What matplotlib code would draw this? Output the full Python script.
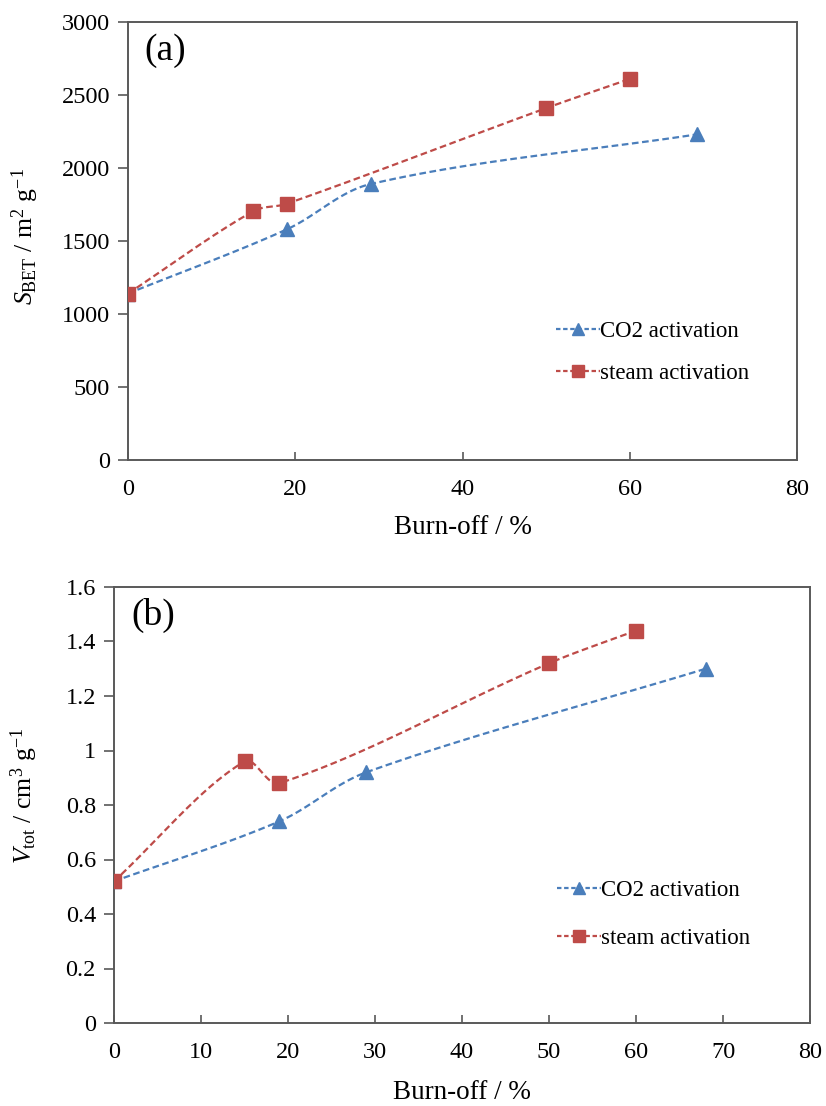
import numpy as np
import matplotlib
matplotlib.use("Agg")
import matplotlib.pyplot as plt
from matplotlib.lines import Line2D

plt.rcParams['font.family'] = ['Liberation Serif', 'DejaVu Serif']
plt.rcParams['mathtext.fontset'] = 'custom'
plt.rcParams['mathtext.rm'] = 'Liberation Serif'
plt.rcParams['mathtext.it'] = 'Liberation Serif:italic'

# Burn-off (%) and measured properties
co2_burnoff = [0, 19, 29, 68]
steam_burnoff = [0, 15, 19, 50, 60]

co2_sbet = [1140, 1580, 1890, 2230]
steam_sbet = [1140, 1705, 1755, 2410, 2610]

co2_vtot = [0.52, 0.74, 0.92, 1.30]
steam_vtot = [0.52, 0.96, 0.88, 1.32, 1.44]

BLUE = '#4A7EBB'
RED = '#BE4B48'
SPINE = '#595959'

W, H = 826, 1106
fig = plt.figure(figsize=(W / 100, H / 100), dpi=100)


def smooth_curve(x, y, sx, sy, n=40):
    """Bezier smoothing through the points, tangents scaled by neighbouring segment lengths."""
    p = np.column_stack([np.asarray(x, float) * sx, np.asarray(y, float) * sy])
    pts = [p[0]]
    for i in range(len(p) - 1):
        p1, p2 = p[i], p[i + 1]
        d12 = np.linalg.norm(p2 - p1)
        if i > 0:
            p0 = p[i - 1]
            d01 = np.linalg.norm(p1 - p0)
            c1 = p1 + (p2 - p0) * d12 / (d01 + d12) / 3.0
        else:
            c1 = p1 + (p2 - p1) / 3.0
        if i + 2 < len(p):
            p3 = p[i + 2]
            d23 = np.linalg.norm(p3 - p2)
            c2 = p2 - (p3 - p1) * d12 / (d12 + d23) / 3.0
        else:
            c2 = p2 - (p2 - p1) / 3.0
        t = np.linspace(0, 1, n)[1:, None]
        seg = ((1 - t) ** 3) * p1 + 3 * ((1 - t) ** 2) * t * c1 + 3 * (1 - t) * t ** 2 * c2 + t ** 3 * p2
        pts.extend(seg)
    pts = np.array(pts)
    return pts[:, 0] / sx, pts[:, 1] / sy


def panel(rect, xs, ys, xmax, xstep, ymax, ystep, ylabel, tag, ytickfmt, leg_anchor, leg_space,
          ylab_pos, xlab_y):
    ax = fig.add_axes(rect)
    wpx = rect[2] * W
    hpx = rect[3] * H
    sx, sy = wpx / xmax, hpx / ymax
    series = [
        (xs[0], ys[0], BLUE, '^', 10, 'CO2 activation'),
        (xs[1], ys[1], RED, 's', 9.5, 'steam activation'),
    ]
    handles = []
    for x, y, c, m, ms, lab in series:
        cx, cy = smooth_curve(x, y, sx, sy)
        ax.plot(cx, cy, color=c, lw=1.6, ls=(0, (3, 1.6)), zorder=2)
        ax.plot(x, y, ls='none', marker=m, ms=ms, color=c, mec=c, zorder=3)
        handles.append(Line2D([], [], color=c, lw=1.6, ls=(0, (2, 1.2)), marker=m,
                              ms=ms * 0.85, mec=c, label=lab))
    ax.set_xlim(0, xmax)
    ax.set_ylim(0, ymax)
    ax.set_xticks(np.arange(0, xmax + 0.1, xstep))
    ax.set_yticks(np.arange(0, ymax + ystep / 2, ystep))
    ax.set_yticklabels([ytickfmt(v) for v in np.arange(0, ymax + ystep / 2, ystep)])
    ax.tick_params(axis='x', direction='in', length=6, width=1.2, color=SPINE,
                   labelsize=17.5, pad=14)
    ax.tick_params(axis='y', direction='out', length=7, width=1.2, color=SPINE,
                   labelsize=17.5, pad=6)
    for s in ax.spines.values():
        s.set_color(SPINE)
        s.set_linewidth(1.4)
    ax.text(0.025, 0.975, tag, transform=ax.transAxes, fontsize=27,
            ha='left', va='top')
    ax.set_xlabel('Burn-off / %', fontsize=19.5)
    ax.xaxis.set_label_coords(0.5, xlab_y)
    ax.set_ylabel(ylabel, fontsize=18.5)
    ax.yaxis.set_label_coords(*ylab_pos)
    ax.legend(handles=handles, loc='upper left', bbox_to_anchor=leg_anchor, frameon=False,
              fontsize=16.5, handlelength=1.9, handletextpad=0.0, labelspacing=leg_space,
              borderaxespad=0)
    return ax


def fmt_int(v):
    return f'{int(round(v))}'


def fmt_dec(v):
    if abs(v - round(v)) < 1e-9:
        return f'{int(round(v))}'
    return f'{v:.1f}'


panel([128 / W, 1 - 460 / H, (797 - 128) / W, (460 - 22) / H],
      (co2_burnoff, steam_burnoff), (co2_sbet, steam_sbet), 80, 20, 3000, 500,
      r'$S_{\mathrm{BET}}$ / m$^{2}$ g$^{-1}$', '(a)', fmt_int,
      (0.626, 0.338), 0.9, (-0.130, 0.51), -0.125)

panel([114 / W, 1 - 1023 / H, (810 - 114) / W, (1023 - 587) / H],
      (co2_burnoff, steam_burnoff), (co2_vtot, steam_vtot), 80, 10, 1.6, 0.2,
      r'$V_{\mathrm{tot}}$ / cm$^{3}$ g$^{-1}$', '(b)', fmt_dec,
      (0.624, 0.35), 1.2, (-0.106, 0.52), -0.131)

fig.savefig('out.png', dpi=100)
